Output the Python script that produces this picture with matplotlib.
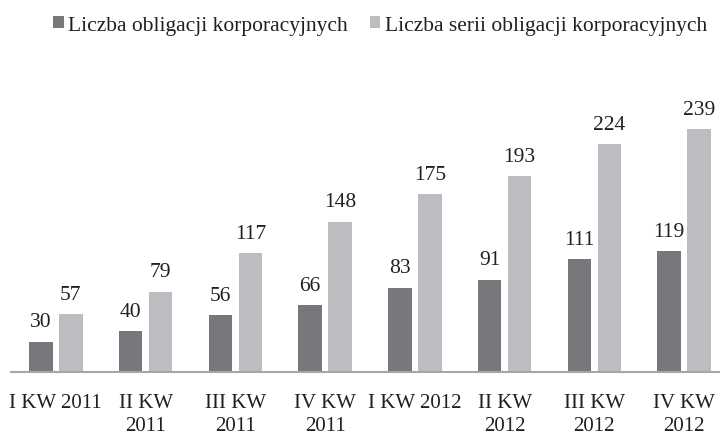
import numpy as np
import matplotlib
matplotlib.use("Agg")
import matplotlib.pyplot as plt

plt.rcParams['font.family'] = ['Liberation Serif', 'DejaVu Serif']

# dane kwartalne
kwartaly = ["I KW 2011", "II KW\n2011", "III KW\n2011", "IV KW\n2011",
            "I KW 2012", "II KW\n2012", "III KW\n2012", "IV KW\n2012"]
obligacje = [30, 40, 56, 66, 83, 91, 111, 119]
serie = [57, 79, 117, 148, 175, 193, 224, 239]

kolor_ciemny = "#77787b"
kolor_jasny = "#bcbdc0"

fig = plt.figure(figsize=(7.2, 4.35), dpi=100)
ax = fig.add_axes([11 / 720, 62 / 435, 709 / 720, 254 / 435])

x = np.arange(len(kwartaly))
szer = 0.26
off = 0.167

b1 = ax.bar(x - off, obligacje, szer, color=kolor_ciemny, label="Liczba obligacji korporacyjnych")
b2 = ax.bar(x + off, serie, szer, color=kolor_jasny, label="Liczba serii obligacji korporacyjnych")

for bars in (b1, b2):
    for r in bars:
        ax.annotate(str(int(r.get_height())), (r.get_x() + r.get_width() / 2, r.get_height()),
                    xytext=(0, 11), textcoords="offset points", ha="center", va="baseline",
                    fontsize=15.5, color="#231f20")

ax.set_xlim(-0.5, 7.4)
ax.set_ylim(0, 250)
ax.set_xticks(x)
ax.set_xticklabels(kwartaly, fontsize=15, color="#231f20", linespacing=1.3)
ax.tick_params(axis="x", length=0, pad=15)
ax.set_yticks([])
for s in ["top", "right", "left"]:
    ax.spines[s].set_visible(False)
ax.spines["bottom"].set_color("#a6a6a6")
ax.spines["bottom"].set_linewidth(1.5)

fig.legend(loc="center", bbox_to_anchor=(380 / 720, 1 - 26 / 435), ncol=2, frameon=False,
           fontsize=15.5, handlelength=0.5, handleheight=0.5, handletextpad=0.2, columnspacing=1.0,
           labelcolor="#231f20")

fig.savefig("out.png", dpi=100)
